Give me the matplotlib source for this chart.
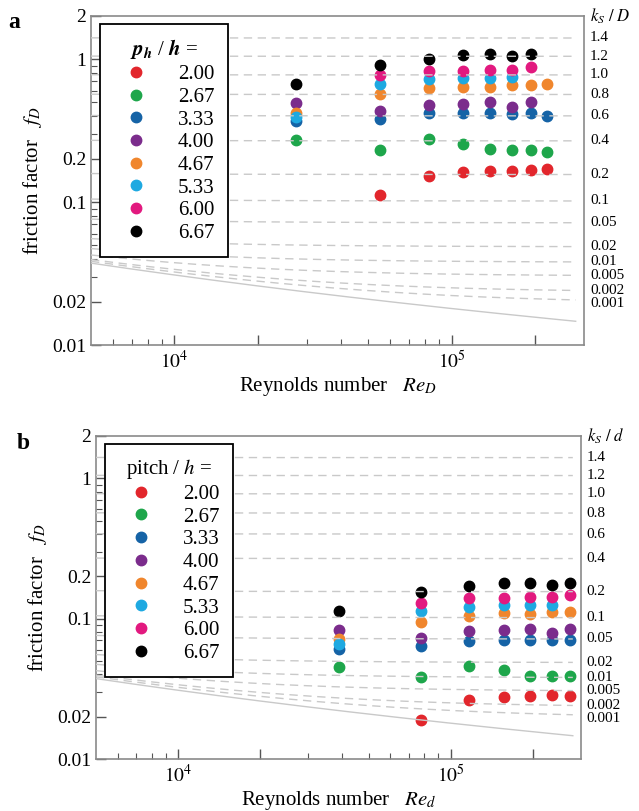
import numpy as np
import matplotlib
matplotlib.use("Agg")
import matplotlib.pyplot as plt
from matplotlib.lines import Line2D
import matplotlib.transforms as mtransforms

plt.rcParams['font.family'] = ['Liberation Serif', 'DejaVu Serif']
plt.rcParams['mathtext.fontset'] = 'stix'

# ---------------- data ----------------
pitch_labels = ["2.00", "2.67", "3.33", "4.00", "4.67", "5.33", "6.00", "6.67"]
colors = ["#e2262c", "#1ea64b", "#1563a6", "#7b2c8c", "#f0862d", "#1ea9e1", "#e2197f", "#000000"]

re_a = [27500, 55000, 82500, 110000, 137500, 165000, 192500, 220000]
f_a_200 = [np.nan, 0.112, 0.152, 0.162, 0.165, 0.166, 0.168, 0.169]
f_a_267 = [0.271, 0.231, 0.274, 0.255, 0.234, 0.231, 0.231, 0.224]
f_a_333 = [0.370, 0.379, 0.417, 0.417, 0.417, 0.412, 0.417, 0.399]
f_a_400 = [0.495, 0.433, 0.477, 0.484, 0.498, 0.464, 0.503, np.nan]
f_a_467 = [0.421, 0.567, 0.624, 0.640, 0.634, 0.658, 0.658, 0.668]
f_a_533 = [0.395, 0.668, 0.728, 0.740, 0.740, 0.752, np.nan, np.nan]
f_a_600 = [np.nan, 0.773, 0.828, 0.828, 0.838, 0.838, 0.884, np.nan]
f_a_667 = [0.668, 0.912, 0.995, 1.07, 1.08, 1.05, 1.08, np.nan]

re_b = [39000, 78000, 117000, 156000, 195000, 234000, 273000]
f_b_200 = [np.nan, 0.0189, 0.0262, 0.0277, 0.0280, 0.0285, 0.0280]
f_b_267 = [0.0453, 0.0384, 0.0458, 0.0429, 0.0389, 0.0389, 0.0389]
f_b_333 = [0.0612, 0.0643, 0.0693, 0.0701, 0.0701, 0.0701, 0.0701]
f_b_400 = [0.0835, 0.0728, 0.0812, 0.0826, 0.0839, 0.0790, 0.0839]
f_b_467 = [0.0721, 0.0946, 0.105, 0.110, 0.108, 0.111, 0.111]
f_b_533 = [0.0657, 0.113, 0.122, 0.126, 0.126, 0.126, np.nan]
f_b_600 = [np.nan, 0.130, 0.140, 0.141, 0.143, 0.143, 0.148]
f_b_667 = [0.113, 0.154, 0.170, 0.179, 0.180, 0.175, 0.179]

roughness = [1.4, 1.2, 1.0, 0.8, 0.6, 0.4, 0.2, 0.1, 0.05, 0.02, 0.01, 0.005, 0.002, 0.001]
roughness_labels = ["1.4", "1.2", "1.0", "0.8", "0.6", "0.4", "0.2", "0.1", "0.05",
                    "0.02", "0.01", "0.005", "0.002", "0.001"]

y_major = [0.01, 0.02, 0.1, 0.2, 1, 2]
y_major_labels = ["0.01", "0.02", "0.1", "0.2", "1", "2"]
y_minor = [0.03, 0.04, 0.05, 0.06, 0.07, 0.08, 0.09, 0.3, 0.4, 0.5, 0.6, 0.7, 0.8, 0.9]
x_major = [1e4, 2e4, 1e5, 2e5]
x_major_labels = [r"$10^4$", "", r"$10^5$", ""]
x_minor = [6e3, 7e3, 8e3, 9e3, 3e4, 4e4, 5e4, 6e4, 7e4, 8e4, 9e4]

series_a = [f_a_200, f_a_267, f_a_333, f_a_400, f_a_467, f_a_533, f_a_600, f_a_667]
series_b = [f_b_200, f_b_267, f_b_333, f_b_400, f_b_467, f_b_533, f_b_600, f_b_667]


def colebrook(re, eps):
    f = np.full_like(re, 0.03, dtype=float)
    for _ in range(60):
        f = (-2.0 * np.log10(eps / 3.7 + 2.51 / (re * np.sqrt(f)))) ** -2
    return f


re_curve = np.logspace(np.log10(5000), np.log10(2.8e5), 300)

fig = plt.figure(figsize=(6.39, 8.11), dpi=100)
ax_a = fig.add_axes([91 / 639, 1 - 345 / 811, (584 - 91) / 639, (345 - 16) / 811])
ax_b = fig.add_axes([96 / 639, 1 - 759 / 811, (581 - 96) / 639, (759 - 436) / 811])

spine_col = "#8a8a8a"
grid_col = "#c9c9c9"
LABEL_FS = 11
MIN_GAP_PX = 13.0


def draw_panel(ax, re_vals, series, title, rlabel, xlabel):
    ax.set_xscale("log")
    ax.set_yscale("log")
    ax.set_xlim(5000, 3e5)
    ax.set_ylim(0.01, 2)
    # reference curves (smooth + Colebrook roughness curves)
    ax.plot(re_curve, colebrook(re_curve, 0.0), color=grid_col, lw=1.0, zorder=3)
    ends = []
    for eps in roughness:
        fc = colebrook(re_curve, eps)
        ax.plot(re_curve, fc, color=grid_col, lw=1.0, ls=(0, (6, 4)), zorder=3)
        ends.append(fc[-1])
    # right-hand labels, kept at the curve ends but with a minimal spacing
    ypix = [ax.transData.transform((1e5, v))[1] for v in ends]
    adj = []
    for yp in ypix:
        if adj and adj[-1] - yp < MIN_GAP_PX:
            yp = adj[-1] - MIN_GAP_PX
        adj.append(yp)
    xpix = ax.transAxes.transform((1.012, 0))[0]
    for yp, lab in zip(adj, roughness_labels):
        fx, fy = fig.transFigure.inverted().transform((xpix, yp))
        fig.text(fx, fy, lab, ha="left", va="center", fontsize=LABEL_FS)
    trans = mtransforms.blended_transform_factory(ax.transAxes, ax.transData)
    ax.text(1.012, 2.0, rlabel, transform=trans, ha="left", va="center",
            fontsize=12, clip_on=False)
    # data
    handles = []
    for vals, c, lab in zip(series, colors, pitch_labels):
        ax.plot(re_vals, vals, ls="none", marker="o", ms=7.5, mfc=c, mec=c, zorder=2)
        handles.append(Line2D([], [], ls="none", marker="o", ms=7.5, mfc=c, mec=c, label=lab))
    leg = ax.legend(handles=handles, title=title, loc="upper left",
                    bbox_to_anchor=(0.018, 0.976), fontsize=15, title_fontsize=15,
                    frameon=True, fancybox=False, framealpha=1.0, edgecolor="black",
                    labelspacing=0.15, handlelength=2.2, handletextpad=0.9,
                    borderpad=0.65, borderaxespad=0)
    leg.get_frame().set_linewidth(1.3)
    leg.set_zorder(10)
    # ticks
    ax.set_yticks(y_major, labels=y_major_labels)
    ax.set_yticks(y_minor, minor=True)
    ax.yaxis.set_minor_formatter(plt.NullFormatter())
    ax.set_xticks(x_major, labels=x_major_labels)
    ax.set_xticks(x_minor, minor=True)
    ax.xaxis.set_minor_formatter(plt.NullFormatter())
    ax.tick_params(which="both", direction="in", top=False, right=False,
                   color="#555555", labelsize=14)
    ax.tick_params(which="major", length=7, width=1.0)
    ax.tick_params(which="minor", length=4, width=0.8)
    for s in ax.spines.values():
        s.set_color(spine_col)
        s.set_linewidth(1.2)
    ax.set_ylabel(r"friction factor   $f_D$", fontsize=15, labelpad=6)
    ax.set_xlabel(xlabel, fontsize=15, labelpad=2)


draw_panel(ax_a, re_a, series_a, r"$\mathbfit{p_h}$ / $\mathbfit{h}$ =", r"$k_S\ /\ D$",
           r"Reynolds number   $Re_D$")
draw_panel(ax_b, re_b, series_b, r"pitch / $h$ =", r"$k_S\ /\ d$",
           r"Reynolds number   $Re_d$")

fig.text(8 / 639, 1 - 22 / 811, "a", fontsize=17, fontweight="bold", ha="left", va="center")
fig.text(17 / 639, 1 - 443 / 811, "b", fontsize=17, fontweight="bold", ha="left", va="center")

fig.savefig("out.png", dpi=100)
